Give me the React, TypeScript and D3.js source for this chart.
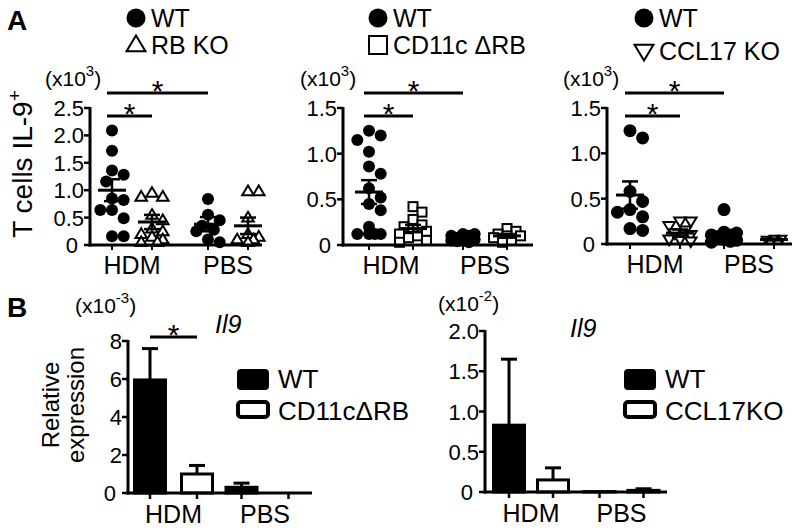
import React from "react";
import * as d3 from "d3";

const FONT = "'Liberation Sans', Arial, Helvetica, sans-serif";

// groups on every x axis
const groups = ["HDM", "PBS"];
const genotypes = ["WT", "KO"];

// panel A, left: WT vs RB KO (x10^3 cells)
const a1Ticks = [0, 0.5, 1, 1.5, 2, 2.5];
const a1WtHdm = [2.09, 1.72, 1.36, 1.28, 1.16, 0.85, 0.82, 0.64, 0.64, 0.49, 0.16, 0.16];
const a1KoHdm = [0.95, 0.88, 0.88, 0.55, 0.45, 0.3, 0.25, 0.2, 0.15, 0.1, 0.05, 0.05];
const a1WtPbs = [0.84, 0.55, 0.45, 0.35, 0.28, 0.25, 0.1, 0.05];
const a1KoPbs = [0.98, 0.98, 0.5, 0.2, 0.15, 0.1, 0.1, 0.05];
const a1Mean = [1.0, 0.42, 0.38, 0.35];
const a1Sem = [0.2, 0.13, 0.13, 0.15];

// panel A, middle: WT vs CD11c ΔRB
const a2Ticks = [0, 0.5, 1, 1.5];
const a2WtHdm = [1.25, 1.2, 1.15, 1.02, 0.86, 0.78, 0.62, 0.52, 0.45, 0.38, 0.2, 0.12, 0.12, 0.12, 0.12];
const a2KoHdm = [0.42, 0.36, 0.28, 0.22, 0.2, 0.18, 0.15, 0.12, 0.1, 0.08, 0.05, 0.03];
const a2WtPbs = [0.12, 0.12, 0.1, 0.1, 0.08, 0.08, 0.06, 0.06, 0.05, 0.05, 0.04, 0.03];
const a2KoPbs = [0.18, 0.15, 0.12, 0.1, 0.1, 0.08, 0.05, 0.03];
const a2Mean = [0.58, 0.18, 0.07, 0.1];
const a2Sem = [0.13, 0.04, 0.01, 0.02];

// panel A, right: WT vs CCL17 KO
const a3Ticks = [0, 0.5, 1, 1.5];
const a3WtHdm = [1.25, 1.17, 0.58, 0.47, 0.38, 0.35, 0.3, 0.17, 0.15];
const a3KoHdm = [0.25, 0.25, 0.2, 0.15, 0.12, 0.1, 0.05, 0.05, 0.03];
const a3WtPbs = [0.38, 0.13, 0.12, 0.1, 0.1, 0.08, 0.05, 0.04, 0.03, 0.02];
const a3KoPbs = [0.06, 0.05, 0.06];
const a3Mean = [0.54, 0.12, 0.1, 0.05];
const a3Sem = [0.15, 0.04, 0.03, 0.01];

// panel B: Il9 relative expression, mean + error (WT HDM, KO HDM, WT PBS, KO PBS)
const b1Ticks = [0, 2, 4, 6, 8];
const b1Mean = [5.95, 1.0, 0.3, 0];
const b1Err = [1.65, 0.45, 0.22, 0];
const b2Ticks = [0, 0.5, 1, 1.5, 2];
const b2Mean = [0.83, 0.15, 0.005, 0.02];
const b2Err = [0.82, 0.15, 0, 0.02];

type Shape = "circle" | "triUp" | "square" | "triDown";

function Marker({ shape, x, y, s }: { shape: Shape; x: number; y: number; s: number }) {
  if (shape === "circle") return <circle cx={x} cy={y} r={s} fill="#000" />;
  if (shape === "square")
    return <rect x={x - s} y={y - s} width={s * 2} height={s * 2} fill="#fff" stroke="#000" strokeWidth={2} />;
  const h = s * 1.75;
  const pts =
    shape === "triUp"
      ? [[x, y - h * 0.6], [x + s * 1.05, y + h * 0.4], [x - s * 1.05, y + h * 0.4]]
      : [[x, y + h * 0.6], [x + s * 1.05, y - h * 0.4], [x - s * 1.05, y - h * 0.4]];
  return <polygon points={pts.map((p) => p.join(",")).join(" ")} fill="#fff" stroke="#000" strokeWidth={2} />;
}

// compact beeswarm: spread overlapping points sideways, but stay inside the column
function dodge(values: number[], y: (v: number) => number, r: number, maxOff: number) {
  const sorted = values.map((v) => ({ cy: y(v) })).sort((a, b) => a.cy - b.cy);
  const placed: { dx: number; cy: number }[] = [];
  const step = r * 0.9;
  const cands: number[] = [0];
  for (let k = 1; k * step <= maxOff; k++) cands.push(k * step, -k * step);
  sorted.forEach((p) => {
    let best = 0;
    let bestD = -1;
    for (const o of cands) {
      const d = placed.length ? d3.min(placed, (q) => Math.hypot(q.dx - o, q.cy - p.cy)) as number : Infinity;
      if (d >= r * 1.75) {
        best = o;
        bestD = Infinity;
        break;
      }
      if (d > bestD) {
        bestD = d;
        best = o;
      }
    }
    placed.push({ dx: best, cy: p.cy });
  });
  return placed;
}

const fmt = (v: number) => (v === 0 ? "0" : d3.format(".1f")(v));

function YAxis({ x, y, ticks, format }: { x: number; y: d3.ScaleLinear<number, number>; ticks: number[]; format: (v: number) => string }) {
  const [lo, hi] = d3.extent(ticks) as [number, number];
  return (
    <g>
      <line x1={x} x2={x} y1={y(hi) - 1} y2={y(lo) + 1.5} stroke="#000" strokeWidth={3} />
      {ticks.map((t) => (
        <g key={t}>
          <line x1={x - 6} x2={x} y1={y(t)} y2={y(t)} stroke="#000" strokeWidth={2.5} />
          <text x={t === 0 ? x - 12 : x - 6} y={y(t) + 8} textAnchor="end" fontSize={22}>
            {format(t)}
          </text>
        </g>
      ))}
    </g>
  );
}

function Exponent({ x, y, exp }: { x: number; y: number; exp: string }) {
  return (
    <text x={x} y={y} fontSize={21}>
      (x10<tspan dy={-10} fontSize={15}>{exp}</tspan>
      <tspan dy={10}>)</tspan>
    </text>
  );
}

function Sig({ x1, x2, y }: { x1: number; x2: number; y: number }) {
  return (
    <g>
      <line x1={x1} x2={x2} y1={y} y2={y} stroke="#000" strokeWidth={3} />
      <text x={(x1 + x2) / 2} y={y + 8} textAnchor="middle" fontSize={30}>*</text>
    </g>
  );
}

interface ScatterProps {
  x0: number;
  x1: number;
  yTop: number;
  yBot: number;
  ticks: number[];
  groupRange: [number, number];
  inner: number;
  series: number[][];
  shapes: Shape[];
  sizes: number[];
  means: number[];
  sems: number[];
  legend: string[];
  legendX: number;
  legendY: [number, number];
  expX: number;
}

function ScatterPanel(p: ScatterProps) {
  const max = d3.max(p.ticks) as number;
  const y = d3.scaleLinear().domain([0, max]).range([p.yBot, p.yTop]);
  const gx = d3.scalePoint<string>().domain(groups).range(p.groupRange);
  const ix = d3.scalePoint<string>().domain(genotypes).range([-p.inner, p.inner]);
  const cols = groups.flatMap((g) => genotypes.map((k) => (gx(g) as number) + (ix(k) as number)));
  const legShapes: Shape[] = [p.shapes[0], p.shapes[1]];
  return (
    <g>
      {p.series.map((vals, i) => {
        const pts = dodge(vals, y, p.sizes[i] + 0.5, 15);
        return (
          <g key={i}>
            {pts.map((pt, j) => (
              <Marker key={j} shape={p.shapes[i]} x={cols[i] + pt.dx} y={pt.cy} s={p.sizes[i]} />
            ))}
          </g>
        );
      })}
      {p.means.map((m, i) => {
        const cx = cols[i];
        return (
          <g key={i} stroke="#000">
            <line x1={cx - 14} x2={cx + 14} y1={y(m)} y2={y(m)} strokeWidth={3} />
            <line x1={cx} x2={cx} y1={y(m - p.sems[i])} y2={y(m + p.sems[i])} strokeWidth={2.5} />
            <line x1={cx - 8} x2={cx + 8} y1={y(m + p.sems[i])} y2={y(m + p.sems[i])} strokeWidth={2.5} />
            <line x1={cx - 8} x2={cx + 8} y1={y(m - p.sems[i])} y2={y(m - p.sems[i])} strokeWidth={2.5} />
          </g>
        );
      })}
      <line x1={p.x0 - 1.5} x2={p.x1} y1={p.yBot} y2={p.yBot} stroke="#000" strokeWidth={3} />
      {cols.map((c, i) => (
        <line key={i} x1={c} x2={c} y1={p.yBot} y2={p.yBot + 5} stroke="#000" strokeWidth={2} />
      ))}
      <YAxis x={p.x0} y={y} ticks={p.ticks} format={fmt} />
      {groups.map((g) => (
        <text key={g} x={gx(g)} y={p.yBot + 29} textAnchor="middle" fontSize={25}>{g}</text>
      ))}
      <Exponent x={p.expX} y={86} exp="3" />
      <Sig x1={cols[0] - 5} x2={cols[2]} y={93} />
      <Sig x1={cols[0] - 5} x2={cols[1]} y={116} />
      {p.legend.map((l, i) => (
        <g key={l}>
          <Marker
            shape={legShapes[i]}
            x={p.legendX - 15}
            y={p.legendY[i] - 9}
            s={legShapes[i] === "circle" ? 9.5 : 9}
          />
          <text x={p.legendX} y={p.legendY[i]} fontSize={25}>{l}</text>
        </g>
      ))}
    </g>
  );
}

interface BarProps {
  x0: number;
  x1: number;
  yTop: number;
  yBot: number;
  ticks: number[];
  groupRange: [number, number];
  inner: number;
  means: number[];
  errs: number[];
  legend: string[];
  legendX: number;
  legendY: [number, number];
}

function BarPanel(p: BarProps) {
  const max = d3.max(p.ticks) as number;
  const y = d3.scaleLinear().domain([0, max]).range([p.yBot, p.yTop]);
  const gx = d3.scalePoint<string>().domain(groups).range(p.groupRange);
  const ix = d3.scalePoint<string>().domain(genotypes).range([-p.inner, p.inner]);
  const cols = groups.flatMap((g) => genotypes.map((k) => (gx(g) as number) + (ix(k) as number)));
  const bw = 31;
  return (
    <g>
      {p.means.map((m, i) => {
        const cx = cols[i];
        const filled = i % 2 === 0;
        return (
          <g key={i}>
            {p.errs[i] > 0 && (
              <g stroke="#000" strokeWidth={3}>
                <line x1={cx} x2={cx} y1={y(m)} y2={y(m + p.errs[i])} />
                <line x1={cx - 8} x2={cx + 8} y1={y(m + p.errs[i])} y2={y(m + p.errs[i])} />
              </g>
            )}
            {m > 0 && (
              <rect
                x={cx - bw / 2}
                y={y(m)}
                width={bw}
                height={p.yBot - y(m)}
                fill={filled ? "#000" : "#fff"}
                stroke="#000"
                strokeWidth={3}
              />
            )}
          </g>
        );
      })}
      <line x1={p.x0 - 1.5} x2={p.x1} y1={p.yBot} y2={p.yBot} stroke="#000" strokeWidth={3} />
      {cols.map((c, i) => (
        <line key={i} x1={c} x2={c} y1={p.yBot} y2={p.yBot + 6} stroke="#000" strokeWidth={2.5} />
      ))}
      <YAxis x={p.x0} y={y} ticks={p.ticks} format={(v) => (max > 4 ? String(v) : fmt(v))} />
      {groups.map((g) => (
        <text key={g} x={gx(g)} y={p.yBot + 30} textAnchor="middle" fontSize={25}>{g}</text>
      ))}
      {p.legend.map((l, i) => (
        <g key={l}>
          <rect
            x={p.legendX - 40}
            y={p.legendY[i] - 18}
            width={30}
            height={i === 0 ? 19 : 15}
            rx={3}
            fill={i === 0 ? "#000" : "#fff"}
            stroke="#000"
            strokeWidth={i === 0 ? 2 : 4}
          />
          <text x={p.legendX} y={p.legendY[i]} fontSize={26}>{l}</text>
        </g>
      ))}
    </g>
  );
}

export default function App() {
  return (
    <svg
      width={800}
      height={529}
      viewBox="0 0 800 529"
      style={{ position: "absolute", left: 0, top: 0, background: "#fff" }}
      fontFamily={FONT}
    >
      <rect width={800} height={529} fill="#fff" />
      <text x={7} y={30} fontSize={28} fontWeight="bold">A</text>
      <text transform="translate(32,164) rotate(-90)" textAnchor="middle" fontSize={28}>
        T cells IL-9<tspan dy={-11} fontSize={19}>+</tspan>
      </text>

      <ScatterPanel
        x0={90}
        x1={262}
        yTop={108}
        yBot={245}
        ticks={a1Ticks}
        groupRange={[132, 228]}
        inner={20}
        series={[a1WtHdm, a1KoHdm, a1WtPbs, a1KoPbs]}
        shapes={["circle", "triUp", "circle", "triUp"]}
        sizes={[6, 5.5, 6, 5.5]}
        means={a1Mean}
        sems={a1Sem}
        legend={["WT", "RB KO"]}
        legendX={151}
        legendY={[27, 54]}
        expX={45}
      />
      <ScatterPanel
        x0={343}
        x1={533}
        yTop={108}
        yBot={245}
        ticks={a2Ticks}
        groupRange={[391, 485]}
        inner={22}
        series={[a2WtHdm, a2KoHdm, a2WtPbs, a2KoPbs]}
        shapes={["circle", "square", "circle", "square"]}
        sizes={[6, 4.5, 6, 4.5]}
        means={a2Mean}
        sems={a2Sem}
        legend={["WT", "CD11c ΔRB"]}
        legendX={393}
        legendY={[27, 54]}
        expX={300}
      />
      <ScatterPanel
        x0={607}
        x1={792}
        yTop={108}
        yBot={244}
        ticks={a3Ticks}
        groupRange={[655, 749]}
        inner={25}
        series={[a3WtHdm, a3KoHdm, a3WtPbs, a3KoPbs]}
        shapes={["circle", "triDown", "circle", "triDown"]}
        sizes={[6.5, 5.5, 6.5, 4]}
        means={a3Mean}
        sems={a3Sem}
        legend={["WT", "CCL17 KO"]}
        legendX={659}
        legendY={[27, 60]}
        expX={563}
      />

      <text x={7} y={317} fontSize={28} fontWeight="bold">B</text>
      <text transform="translate(59,405) rotate(-90)" textAnchor="middle" fontSize={24}>Relative</text>
      <text transform="translate(84,405) rotate(-90)" textAnchor="middle" fontSize={24}>expression</text>
      <Exponent x={75} y={313} exp="-3" />
      <text x={215} y={333} fontSize={25} fontStyle="italic">Il9</text>
      <Sig x1={150} x2={197} y={337} />
      <BarPanel
        x0={128}
        x1={312}
        yTop={341}
        yBot={493}
        ticks={b1Ticks}
        groupRange={[173.5, 265]}
        inner={23.5}
        means={b1Mean}
        errs={b1Err}
        legend={["WT", "CD11cΔRB"]}
        legendX={278}
        legendY={[388, 420]}
      />

      <Exponent x={438} y={311} exp="-2" />
      <text x={570} y={337} fontSize={25} fontStyle="italic">Il9</text>
      <BarPanel
        x0={485}
        x1={667}
        yTop={331}
        yBot={492}
        ticks={b2Ticks}
        groupRange={[531, 621.5]}
        inner={22}
        means={b2Mean}
        errs={b2Err}
        legend={["WT", "CCL17KO"]}
        legendX={665}
        legendY={[388, 420]}
      />
    </svg>
  );
}
